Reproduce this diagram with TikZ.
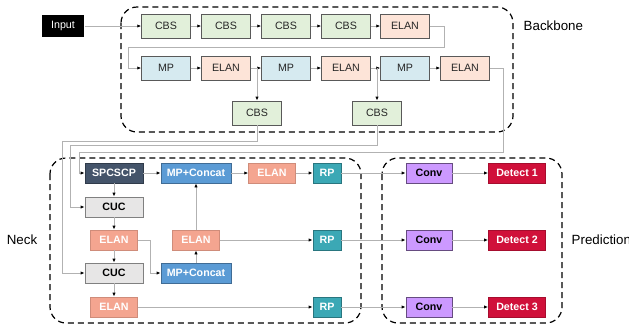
\documentclass[tikz,border=0pt]{standalone}
\usepackage{fontspec}
\setmainfont{Liberation Sans}
\usetikzlibrary{arrows.meta, positioning, calc}

\definecolor{cbsgreen}{HTML}{E2F0DA}
\definecolor{mpblue}{HTML}{D6EAF0}
\definecolor{elanpeach}{HTML}{FDE4D8}
\definecolor{spcslate}{HTML}{44546A}
\definecolor{concatblue}{HTML}{5B9BD5}
\definecolor{elansalmon}{HTML}{F4A590}
\definecolor{rpteal}{HTML}{3BA8B5}
\definecolor{cucgray}{HTML}{E7E6E6}
\definecolor{convpurple}{HTML}{CC99FF}
\definecolor{detectred}{HTML}{D0103A}

\begin{document}
\begin{tikzpicture}[
    x=0.75pt, y=-0.75pt,
    bbox/.style={rectangle, draw=black!65, line width=0.6pt, minimum width=36.5pt, minimum height=18pt, inner sep=0pt, font=\fontsize{8}{9}\selectfont, text=black!85},
    cbs/.style={bbox, fill=cbsgreen},
    mp/.style={bbox, fill=mpblue},
    elan/.style={bbox, fill=elanpeach},
    nbox/.style={rectangle, line width=0.6pt, minimum height=15pt, inner sep=0pt, font=\bfseries\fontsize{8}{9}\selectfont, text=white},
    spc/.style={nbox, fill=spcslate, draw=spcslate!70!black, minimum width=43.5pt},
    concat/.style={nbox, fill=concatblue, draw=concatblue!70!black, minimum width=52.5pt},
    nelan/.style={nbox, fill=elansalmon, draw=elansalmon!85!black, minimum width=35pt},
    rp/.style={nbox, fill=rpteal, draw=rpteal!70!black, minimum width=21pt},
    cuc/.style={nbox, fill=cucgray, draw=black!50, text=black, minimum width=43.5pt},
    conv/.style={nbox, fill=convpurple, draw=convpurple!50!black, text=black, minimum width=34.5pt},
    detect/.style={nbox, fill=detectred, draw=detectred!80!black, minimum width=42.75pt},
    group/.style={draw=black, dashed, line width=0.9pt, rounded corners=12pt, dash pattern=on 4.5pt off 3pt},
    line/.style={draw=black!30, line width=0.6pt},
    arrow/.style={line, -{Latex[length=3pt,width=2.5pt,black]}}
]
\useasboundingbox (0,0) rectangle (629,330);

% Groups
\draw[group] (121,7) rectangle (513,132);
\draw[group] (50,158) rectangle (361,323);
\draw[group] (382,158) rectangle (562,323);
\node[font=\fontsize{10}{12}\selectfont, anchor=west] (lbb) at (519,26) {Backbone};
\node[font=\fontsize{10}{12}\selectfont] (lneck) at (22,240) {Neck};
\node[font=\fontsize{10}{12}\selectfont, anchor=west] (lpred) at (567,240) {Prediction};

% Backbone
\node[rectangle, fill=black, text=white, minimum width=32pt, minimum height=17pt, inner sep=0pt, font=\fontsize{8}{9}\selectfont] (input) at (63,26) {Input};
\node[cbs] (cbs1) at (166,26) {CBS};
\node[cbs] (cbs2) at (226,26) {CBS};
\node[cbs] (cbs3) at (286,26) {CBS};
\node[cbs] (cbs4) at (346,26) {CBS};
\node[elan] (elan1) at (405,26) {ELAN};
\node[mp] (mp1) at (166,68) {MP};
\node[elan] (elan2) at (226,68) {ELAN};
\node[mp] (mp2) at (286,68) {MP};
\node[elan] (elan3) at (346,68) {ELAN};
\node[mp] (mp3) at (405,68) {MP};
\node[elan] (elan4) at (465,68) {ELAN};
\node[cbs] (cbsA) at (257,113) {CBS};
\node[cbs] (cbsB) at (377,113) {CBS};

% Neck
\node[spc] (spcscp) at (114,173) {SPCSCP};
\node[concat] (concatT) at (196,173) {MP+Concat};
\node[nelan] (elanT) at (272,173) {ELAN};
\node[rp] (rpT) at (327,173) {RP};
\node[cuc] (cuc1) at (114,207) {CUC};
\node[nelan] (elanL) at (114,240) {ELAN};
\node[nelan] (elanM) at (196,240) {ELAN};
\node[rp] (rpM) at (327,240) {RP};
\node[cuc] (cuc2) at (114,273) {CUC};
\node[concat] (concatB) at (196,273) {MP+Concat};
\node[nelan] (elanB) at (114,307) {ELAN};
\node[rp] (rpB) at (327,307) {RP};

% Prediction
\node[conv] (conv1) at (429,173) {Conv};
\node[conv] (conv2) at (429,240) {Conv};
\node[conv] (conv3) at (429,307) {Conv};
\node[detect] (det1) at (517,173) {Detect 1};
\node[detect] (det2) at (517,240) {Detect 2};
\node[detect] (det3) at (517,307) {Detect 3};

% turning points
\coordinate (r1) at (444,47);
\coordinate (r2) at (128,47);
\coordinate (t1) at (62,141);
\coordinate (t2) at (70,145);
\coordinate (t3) at (503,152);
\coordinate (t4) at (79,152);
\coordinate (t5) at (150,240);

% Backbone flow
\draw[arrow] (input) -- (cbs1);
\draw[arrow] (cbs1) -- (cbs2);
\draw[arrow] (cbs2) -- (cbs3);
\draw[arrow] (cbs3) -- (cbs4);
\draw[arrow] (cbs4) -- (elan1);
\draw[arrow] (elan1.east) -| (r1) -- (r2) |- (mp1.west);
\draw[arrow] (mp1) -- (elan2);
\draw[arrow] (elan2) -- (mp2);
\draw[arrow] (mp2) -- (elan3);
\draw[arrow] (elan3) -- (mp3);
\draw[arrow] (mp3) -- (elan4);
\draw[arrow] (cbsA.north |- elan2.east) -- (cbsA.north);
\draw[arrow] (cbsB.north |- elan3.east) -- (cbsB.north);

% Backbone to neck
\draw[arrow] (cbsA.south) |- (t1) |- (cuc2.west);
\draw[arrow] (cbsB.south) |- (t2) |- (cuc1.west);
\draw[arrow] (elan4.east) -| (t3) -- (t4) |- (spcscp.west);

% Neck flow
\draw[arrow] (spcscp) -- (concatT);
\draw[arrow] (concatT) -- (elanT);
\draw[arrow] (elanT) -- (rpT);
\draw[arrow] (spcscp) -- (cuc1);
\draw[arrow] (cuc1) -- (elanL);
\draw[arrow] (elanL) -- (cuc2);
\draw[arrow] (elanL.east) -- (t5) |- (concatB.west);
\draw[arrow] (cuc2) -- (elanB);
\draw[arrow] (concatB) -- (elanM);
\draw[arrow] (elanM) -- (concatT);
\draw[arrow] (elanM) -- (rpM);
\draw[arrow] (elanB) -- (rpB);

% Prediction flow
\draw[arrow] (rpT) -- (conv1);
\draw[arrow] (rpM) -- (conv2);
\draw[arrow] (rpB) -- (conv3);
\draw[arrow] (conv1) -- (det1);
\draw[arrow] (conv2) -- (det2);
\draw[arrow] (conv3) -- (det3);

\end{tikzpicture}
\end{document}
